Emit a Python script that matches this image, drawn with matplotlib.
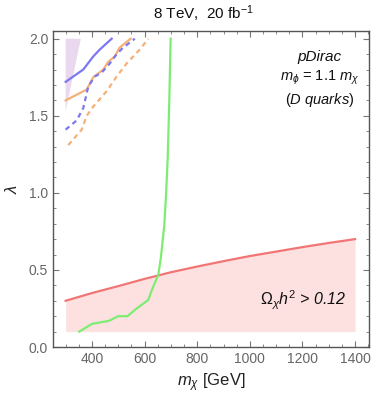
import matplotlib
matplotlib.use("Agg")
import matplotlib.pyplot as plt
from matplotlib.ticker import MultipleLocator

plt.rcParams['font.family'] = ['Liberation Sans', 'DejaVu Sans']
plt.rcParams['mathtext.fontset'] = 'custom'
plt.rcParams['mathtext.it'] = 'Liberation Sans:italic'
plt.rcParams['mathtext.rm'] = 'Liberation Sans'

# relic density curve (Omega h^2 = 0.12)
relic_m = [300, 400, 500, 600, 700, 800, 900, 1000, 1100, 1200, 1300, 1400]
relic_lam = [0.300, 0.350, 0.395, 0.442, 0.485, 0.522, 0.557, 0.590,
             0.619, 0.648, 0.675, 0.700]
relic_floor = 0.1

# direct detection bound
dd_m = [352, 400, 465, 500, 535, 570, 614, 630, 652, 662, 675, 682, 688, 694, 699]
dd_lam = [0.10, 0.15, 0.17, 0.20, 0.20, 0.25, 0.305, 0.38, 0.467, 0.58, 0.79,
          1.0, 1.23, 1.60, 2.00]

# LHC limits
blue_solid_m = [300, 367, 405, 430, 475]
blue_solid_lam = [1.72, 1.80, 1.885, 1.93, 2.0]
orange_solid_m = [300, 380, 405, 443, 462, 487, 504, 525, 547]
orange_solid_lam = [1.60, 1.67, 1.75, 1.80, 1.85, 1.885, 1.94, 1.97, 2.0]
blue_dash_m = [300, 342, 367, 386, 411, 437, 468, 494, 517, 563]
blue_dash_lam = [1.41, 1.47, 1.55, 1.69, 1.755, 1.78, 1.84, 1.90, 1.94, 2.0]
orange_dash_m = [310, 361, 380, 405, 456, 494, 532, 582, 614]
orange_dash_lam = [1.31, 1.41, 1.50, 1.56, 1.66, 1.755, 1.84, 1.93, 2.0]

# small excluded wedge at top left
wedge_m = [300, 358, 300]
wedge_lam = [2.0, 2.0, 1.53]

fig = plt.figure(figsize=(3.74, 3.98), dpi=100)
ax = fig.add_axes([0.1417, 0.1281, 0.845, 0.794])

ax.fill_between(relic_m, relic_floor, relic_lam, color='#fde1e1', lw=0)
ax.plot(relic_m, relic_lam, color='#f27575', lw=1.6)

ax.fill(wedge_m, wedge_lam, color='#ead8ee', lw=0)

ax.plot(dd_m, dd_lam, color='#7ded72', lw=1.6)

ax.plot(blue_solid_m, blue_solid_lam, color='#7b78f0', lw=1.6)
ax.plot(orange_solid_m, orange_solid_lam, color='#f6b077', lw=1.6)
ax.plot(blue_dash_m, blue_dash_lam, color='#7b78f0', lw=1.6, ls=(0, (2.2, 1.8)))
ax.plot(orange_dash_m, orange_dash_lam, color='#f6b077', lw=1.6, ls=(0, (2.2, 1.8)))

ax.set_xlim(252, 1453)
ax.set_ylim(0, 2.05)
ax.xaxis.set_major_locator(MultipleLocator(200))
ax.xaxis.set_minor_locator(MultipleLocator(50))
ax.yaxis.set_major_locator(MultipleLocator(0.5))
ax.yaxis.set_minor_locator(MultipleLocator(0.1))
ax.yaxis.set_major_formatter(plt.FuncFormatter(lambda v, p: f"{v:.1f}"))

for s in ax.spines.values():
    s.set_color('#555555')
    s.set_linewidth(1.0)
ax.tick_params(which='both', direction='in', top=True, right=True,
               colors='#777777', labelcolor='#666666', labelsize=10)
ax.tick_params(which='major', length=4)
ax.tick_params(which='minor', length=2.2)

ax.set_xlabel(r'$m_\chi$ [GeV]', fontsize=12, color='#222222', labelpad=4)
ax.set_ylabel(r'$\lambda$', fontsize=12, color='#222222', labelpad=6)
fig.text(0.543, 0.966, r'8 TeV,  20 fb$^{-1}$', ha='center', va='center',
         fontsize=11, color='#111111')

ax.text(1265, 1.88, 'pDirac', ha='center', va='center', fontsize=11,
        style='italic', color='#111111')
ax.text(1265, 1.745, r'$m_\phi$ = 1.1 $m_\chi$', ha='center', va='center',
        fontsize=10.5, color='#111111')
ax.text(1265, 1.60, r'($\it{D\ quarks}$)', ha='center', va='center',
        fontsize=10.5, color='#111111')
ax.text(1202, 0.305, r'$\mathit{\Omega}_\chi h^2$ > 0.12', ha='center', va='center',
        fontsize=11.5, style='italic', color='#111111')

fig.savefig('out.png', dpi=100)
